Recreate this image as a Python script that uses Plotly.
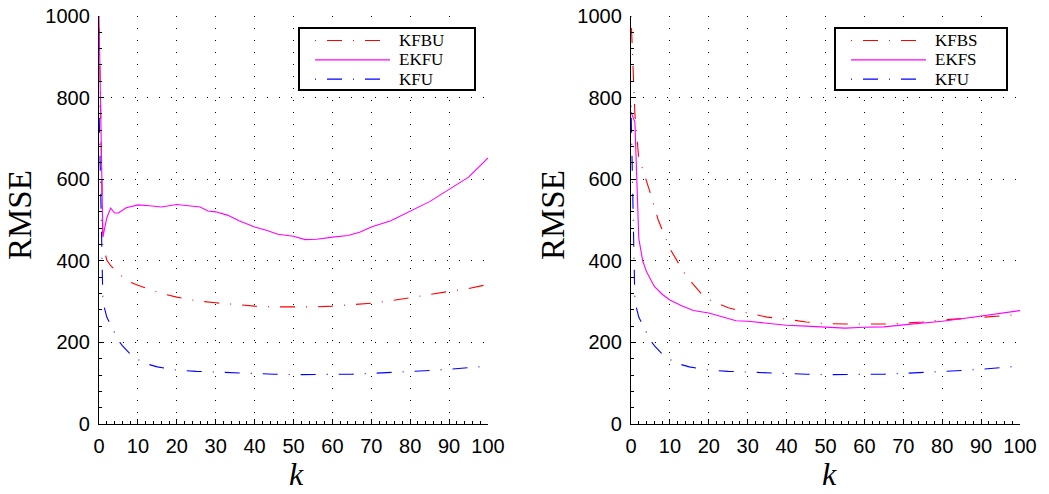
import plotly.graph_objects as go

# ---------------- data ----------------
k_kfu = [0, 1, 2, 3, 4, 5, 6, 8, 10, 12, 15, 18, 20, 25, 30, 35, 40, 45, 50, 55, 60, 65, 70, 75, 80, 85, 90, 95, 100]
kfu = [780, 300, 262, 242, 222, 205, 192, 172, 158, 148, 140, 135, 132, 129, 127, 125, 123, 122, 121, 121, 121, 122, 124, 126, 128, 131, 134, 138, 142]

k_kfbu = [0, 1, 2, 3, 5, 7, 10, 13, 16, 20, 25, 30, 35, 40, 45, 50, 55, 60, 65, 70, 75, 80, 85, 90, 95, 100]
kfbu = [1000, 440, 402, 388, 370, 352, 340, 330, 320, 311, 302, 297, 293, 289, 287, 287, 287, 289, 292, 296, 302, 310, 318, 325, 332, 342]

k_ekfu = [0, 1, 2, 3, 4, 5, 7, 10, 13, 16, 20, 23, 26, 28, 30, 33, 36, 40, 43, 46, 50, 53, 56, 60, 64, 67, 70, 75, 80, 85, 90, 95, 100]
ekfu = [1000, 458, 505, 529, 517, 517, 530, 537, 535, 532, 538, 535, 532, 522, 520, 512, 498, 483, 475, 465, 460, 452, 453, 458, 462, 470, 483, 498, 522, 545, 575, 605, 652]

k_kfbs = [0, 1, 2, 3, 5, 7, 10, 14, 18, 20, 25, 30, 35, 40, 45, 50, 55, 60, 65, 70, 75, 80, 85, 90, 95, 100]
kfbs = [1000, 760, 650, 625, 565, 500, 430, 365, 320, 305, 285, 272, 262, 257, 250, 246, 245, 245, 245, 247, 250, 255, 258, 262, 265, 268]

k_ekfs = [0, 1, 2, 3, 4, 6, 8, 10, 13, 16, 20, 24, 27, 30, 35, 40, 45, 50, 55, 60, 65, 70, 75, 80, 85, 90, 95, 100]
ekfs = [765, 740, 455, 400, 373, 337, 318, 304, 290, 278, 272, 262, 253, 252, 247, 242, 240, 237, 235, 237, 238, 243, 247, 252, 258, 265, 271, 278]

x_ticks = [0, 10, 20, 30, 40, 50, 60, 70, 80, 90, 100]
y_ticks = [0, 200, 400, 600, 800, 1000]

legend_left = ["KFBU", "EKFU", "KFU"]
legend_right = ["KFBS", "EKFS", "KFU"]

RED, MAG, BLUE = "#FF0000", "#FF00FF", "#0000FF"
DASHDOT = "1px,11px,15px,11px"
SERIF = "Liberation Serif"
SANS = "Liberation Sans"

W, H = 1049, 494
def px(x): return x / W
def py(y): return 1 - y / H

fig = go.Figure()

def add(x, y, name, color, dash, xa, ya):
    fig.add_trace(go.Scatter(x=x, y=y, name=name, mode="lines", showlegend=False,
                             line=dict(color=color, width=1.1, dash=dash),
                             xaxis=xa, yaxis=ya))

add(k_kfbu, kfbu, legend_left[0], RED, DASHDOT, "x", "y")
add(k_ekfu, ekfu, legend_left[1], MAG, "solid", "x", "y")
add(k_kfu, kfu, legend_left[2], BLUE, DASHDOT, "x", "y")
add(k_kfbs, kfbs, legend_right[0], RED, DASHDOT, "x2", "y2")
add(k_ekfs, ekfs, legend_right[1], MAG, "solid", "x2", "y2")
add(k_kfu, kfu, legend_right[2], BLUE, DASHDOT, "x2", "y2")

xcommon = dict(range=[0, 100], tickvals=x_ticks, showgrid=True, gridcolor="black",
               griddash="1px,11px", gridwidth=1, showline=True, linecolor="black",
               linewidth=1.3, ticks="inside", ticklen=5, tickcolor="black",
               zeroline=False, automargin=False, ticklabelstandoff=4,
               tickfont=dict(family=SANS, size=20, color="black"),
               minor=dict(dtick=2, ticks="inside", ticklen=2.5, tickcolor="black", showgrid=False))
ycommon = dict(range=[0, 1000], tickvals=y_ticks, showgrid=True, gridcolor="black",
               griddash="1px,11px", gridwidth=1, showline=True, linecolor="black",
               linewidth=1.3, ticks="inside", ticklen=5, tickcolor="black",
               zeroline=False, automargin=False, ticklabelstandoff=4,
               tickfont=dict(family=SANS, size=20, color="black"),
               minor=dict(dtick=40, ticks="inside", ticklen=2.5, tickcolor="black", showgrid=False))

fig.update_layout(
    width=W, height=H, margin=dict(l=0, r=0, t=0, b=0),
    plot_bgcolor="white", paper_bgcolor="white", showlegend=False,
    xaxis=dict(domain=[px(99), px(488)], anchor="y", **xcommon),
    yaxis=dict(domain=[py(424), py(16)], anchor="x", **ycommon),
    xaxis2=dict(domain=[px(631), px(1020)], anchor="y2", **xcommon),
    yaxis2=dict(domain=[py(424), py(16)], anchor="x2", **ycommon),
)

# axis titles
for xc in (20, 553):
    fig.add_annotation(x=px(xc), y=py(215), xref="paper", yref="paper", text="RMSE",
                       textangle=-90, showarrow=False, xanchor="center", yanchor="middle",
                       font=dict(family=SERIF, size=33, color="black"))
for xc in (296, 829):
    fig.add_annotation(x=px(xc), y=py(474), xref="paper", yref="paper", text="<i>k</i>",
                       showarrow=False, xanchor="center", yanchor="middle",
                       font=dict(family=SERIF, size=32, color="black"))

# custom legends (box, sample lines, labels)
def legend(box_x0, box_x1, line_x0, line_x1, text_x, names):
    fig.add_shape(type="rect", xref="paper", yref="paper",
                  x0=px(box_x0), x1=px(box_x1), y0=py(90), y1=py(28),
                  line=dict(color="black", width=2), fillcolor="white", layer="above")
    styles = [(RED, DASHDOT), (MAG, "solid"), (BLUE, DASHDOT)]
    for i, (name, (col, dsh)) in enumerate(zip(names, styles)):
        yc = 40.5 + 19.3 * i
        fig.add_shape(type="line", xref="paper", yref="paper",
                      x0=px(line_x0), x1=px(line_x1), y0=py(yc), y1=py(yc),
                      line=dict(color=col, width=1.2, dash=dsh), layer="above")
        fig.add_annotation(x=px(text_x), y=py(yc), xref="paper", yref="paper", text=name,
                           showarrow=False, xanchor="left", yanchor="middle",
                           height=17, borderpad=0, valign="middle",
                           font=dict(family=SERIF, size=17, color="black"))

legend(299, 475, 315, 390, 398, legend_left)
legend(835, 1007, 851, 926, 934, legend_right)

fig.write_html("out.html")
